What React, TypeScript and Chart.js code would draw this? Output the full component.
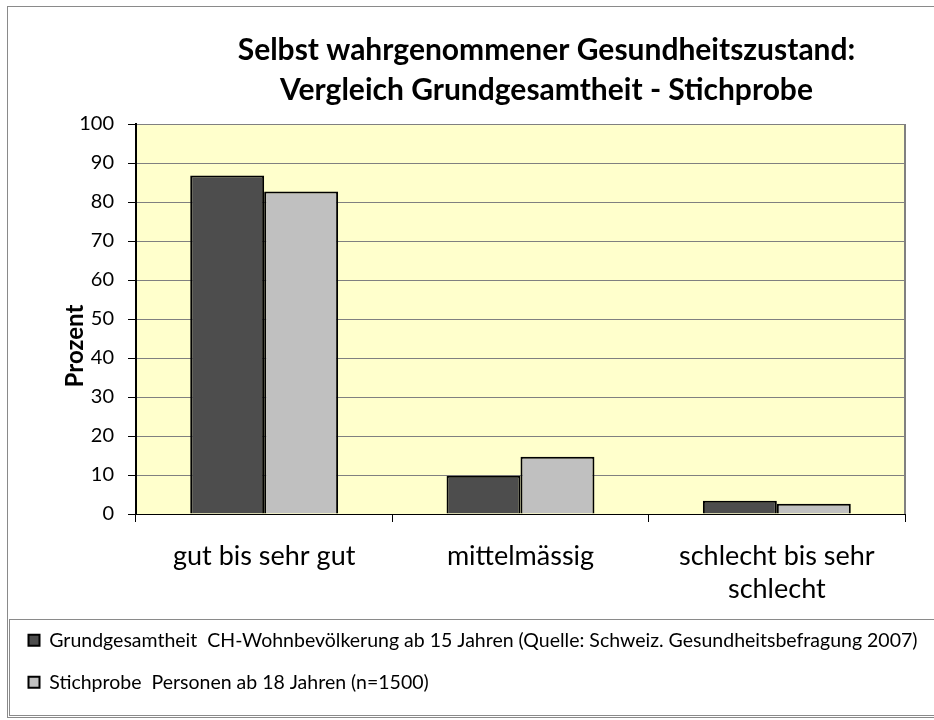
import React, { useEffect, useRef } from "react";
import { Chart, registerables } from "chart.js";

Chart.register(...registerables);

const titleLines = ["Selbst wahrgenommener Gesundheitszustand:", "Vergleich Grundgesamtheit - Stichprobe"];
const yAxisTitle = "Prozent";
const categories = [["gut bis sehr gut"], ["mittelmässig"], ["schlecht bis sehr", "schlecht"]];
const grundLabel = "Grundgesamtheit  CH-Wohnbevölkerung ab 15 Jahren (Quelle: Schweiz. Gesundheitsbefragung 2007)";
const stichLabel = "Stichprobe  Personen ab 18 Jahren (n=1500)";
const grundValues = [86.8, 9.8, 3.4];
const stichValues = [82.7, 14.7, 2.6];
const yMin = 0;
const yMax = 100;
const yStep = 10;

const FONT = "Lato";

const decor = {
  id: "decor",
  beforeDraw(chart: any) {
    const { ctx, chartArea: a } = chart;
    ctx.save();
    ctx.fillStyle = "#ffffff";
    ctx.fillRect(0, 0, chart.width, chart.height);
    ctx.fillStyle = "#FFFFCC";
    ctx.fillRect(a.left, a.top, a.right - a.left, a.bottom - a.top);
    ctx.restore();
  },
  afterDraw(chart: any) {
    const { ctx, chartArea: a } = chart;
    const L = chart.legend;
    ctx.save();
    // plot area right border
    ctx.strokeStyle = "#808080";
    ctx.lineWidth = 2;
    ctx.beginPath();
    ctx.moveTo(a.right, a.top);
    ctx.lineTo(a.right, a.bottom);
    ctx.stroke();
    // outer frame
    ctx.lineWidth = 1;
    ctx.strokeStyle = "#8a8a8a";
    ctx.strokeRect(7.5, 6.5, chart.width + 20, chart.height - 9);
    // legend frame
    ctx.strokeRect(9.5, L.top + 11.5, chart.width + 20, L.height + 2);
    // title
    ctx.fillStyle = "#000000";
    ctx.textAlign = "center";
    ctx.textBaseline = "middle";
    ctx.font = `bold 30px ${FONT}`;
    const cx = (a.left + a.right) / 2 + 26;
    titleLines.forEach((t, i) => ctx.fillText(t, cx, 50 + i * 40));
    // y axis title
    ctx.font = `bold 24px ${FONT}`;
    ctx.translate(a.left - 61, (a.top + a.bottom) / 2 + 27);
    ctx.rotate(-Math.PI / 2);
    ctx.fillText(yAxisTitle, 0, 0);
    ctx.restore();
  },
};

export default function App() {
  const ref = useRef<HTMLCanvasElement>(null);
  useEffect(() => {
    document.body.style.margin = "0";
    const chart = new Chart(ref.current!, {
      type: "bar",
      data: {
        labels: categories as any,
        datasets: [
          {
            label: grundLabel,
            data: grundValues,
            backgroundColor: "#4d4d4d",
            borderColor: "#000000",
            borderWidth: 2,
            categoryPercentage: 0.577,
            barPercentage: 1,
          },
          {
            label: stichLabel,
            data: stichValues,
            backgroundColor: "#c0c0c0",
            borderColor: "#000000",
            borderWidth: 2,
            categoryPercentage: 0.577,
            barPercentage: 1,
          },
        ],
      },
      options: {
        animation: false,
        responsive: false,
        devicePixelRatio: 1,
        layout: { padding: { top: 124, left: 6, right: 0, bottom: 18 } },
        plugins: {
          title: { display: false },
          tooltip: { enabled: false },
          legend: {
            position: "bottom",
            align: "start",
            labels: {
              color: "#000000",
              font: { family: FONT, size: 19.5 },
              boxWidth: 11,
              boxHeight: 11,
              padding: 22.5,
            },
          },
        },
        scales: {
          x: {
            offset: true,
            afterFit(scale: any) {
              scale.height = 94;
            },
            grid: {
              offset: true,
              drawOnChartArea: false,
              drawTicks: true,
              tickLength: 8,
              color: "#000000",
            },
            border: { color: "#000000", width: 1 },
            ticks: {
              color: "#000000",
              font: { family: FONT, size: 27, lineHeight: 1.22 },
              padding: 18,
              maxRotation: 0,
              autoSkip: false,
            },
          },
          y: {
            min: yMin,
            max: yMax,
            afterFit(scale: any) {
              scale.width = 130;
            },
            grid: {
              color: "#808080",
              tickColor: "#000000",
              tickLength: 8,
              lineWidth: 1,
            },
            border: { color: "#000000", width: 2 },
            ticks: {
              stepSize: yStep,
              color: "#000000",
              font: { family: FONT, size: 20 },
              padding: 14,
            },
          },
          spacer: {
            type: "linear",
            position: "right",
            min: yMin,
            max: yMax,
            afterFit(scale: any) {
              scale.width = 29;
            },
            grid: { display: false, drawTicks: false },
            border: { display: false },
            ticks: { display: false },
          },
        },
      },
      plugins: [decor],
    });
    return () => chart.destroy();
  }, []);
  return <canvas ref={ref} width={934} height={720} style={{ display: "block" }} />;
}
